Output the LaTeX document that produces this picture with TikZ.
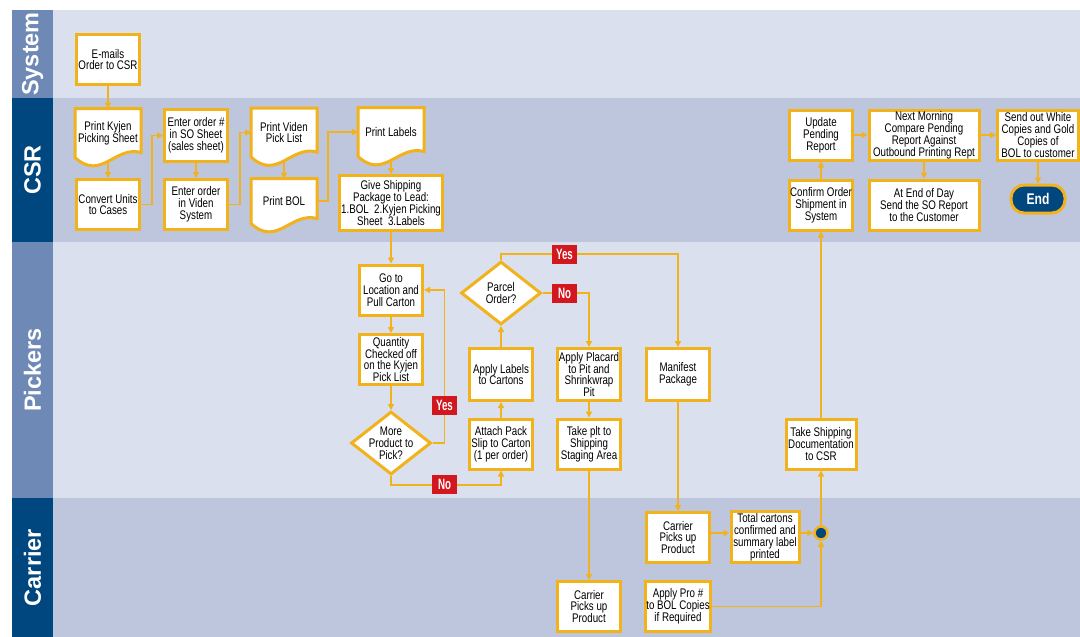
\documentclass[tikz,border=0pt]{standalone}
\usepackage{fontspec}
\setmainfont{Liberation Sans}[FakeStretch=0.78]
\newfontfamily\lanefont{Liberation Sans}
\newfontfamily\flagfont{Liberation Sans}[FakeStretch=0.65]
\usetikzlibrary{arrows.meta,shapes.geometric}
\definecolor{gold}{HTML}{F1B21C}
\definecolor{navy}{HTML}{00467F}
\definecolor{steel}{HTML}{6E89B6}
\definecolor{lanelight}{HTML}{DAE0EE}
\definecolor{lanedark}{HTML}{BEC6DE}
\definecolor{flagred}{HTML}{D2171F}
\pgfdeclarelayer{back}
\pgfsetlayers{back,main}
\tikzset{
  box/.style={draw=gold, line width=3pt, fill=white, minimum width=63pt, minimum height=50pt,
    inner sep=0.5pt, align=center, font=\fontsize{12.5}{11.9}\selectfont},
  docbox/.style={line width=3pt, minimum width=63pt, minimum height=46pt,
    inner sep=0.5pt, align=center, font=\fontsize{12.5}{11.9}\selectfont},
  docline/.style={draw=gold, line width=3pt, fill=white},
  decision/.style={diamond, draw=gold, line width=3pt, fill=white, minimum width=80pt, minimum height=63pt,
    inner sep=-6pt, align=center, font=\fontsize{12.5}{11.9}\selectfont},
  terminal/.style={draw=gold, fill=navy, line width=3pt, rounded corners=13pt, minimum width=54pt,
    minimum height=28pt, text=white, font=\bfseries\fontsize{15.5}{15.5}\selectfont},
  junction/.style={circle, draw=gold, fill=navy, line width=2.5pt, minimum size=13pt, inner sep=0pt},
  flow/.style={gold, line width=1.8pt, -{Triangle[length=6pt,width=6pt]}},
  flag/.style={fill=flagred, text=white, minimum width=25pt, minimum height=19pt, inner sep=0pt,
    font=\flagfont\bfseries\fontsize{15}{15}\selectfont},
  lanelabel/.style={text=white, rotate=90, font=\lanefont\bfseries\fontsize{23.5}{23.5}\selectfont}
}
\begin{document}
\begin{tikzpicture}[x=1pt,y=-1pt]
    \useasboundingbox (0,0) rectangle (1080,637);
    \begin{pgfonlayer}{back}
        \fill[lanelight] (53,10) rectangle (1080,98);
        \fill[lanedark] (53,98) rectangle (1080,242);
        \fill[lanelight] (53,242) rectangle (1080,498);
        \fill[lanedark] (53,498) rectangle (1080,637);
        \fill[steel] (12,10) rectangle (53,98);
        \fill[navy] (12,98) rectangle (53,242);
        \fill[steel] (12,242) rectangle (53,498);
        \fill[navy] (12,498) rectangle (53,637);
    \end{pgfonlayer}
    \node[lanelabel] (lsystem) at (32.5,54) {System};
    \node[lanelabel] (lcsr) at (32.5,170) {CSR};
    \node[lanelabel] (lpickers) at (32.5,370) {Pickers};
    \node[lanelabel] (lcarrier) at (32.5,567.5) {Carrier};

    \node[box] (emails) at (108,59.5) {E-mails\\Order to CSR};
    \node[docbox] (kyjen) at (108,133) {Print Kyjen\\Picking Sheet};
    \node[box] (convert) at (108,204.5) {Convert Units\\to Cases};
    \node[box, minimum height=52pt] (sosheet) at (196,135.5) {Enter order \#\\in SO Sheet\\(sales sheet)};
    \node[box] (videnorder) at (196,204.5) {Enter order\\in Viden\\System};
    \node[docbox] (picklist) at (284,132.5) {Print Viden\\Pick List};
    \node[docbox, minimum height=42pt] (bol) at (284,201) {Print BOL};
    \node[docbox] (labels) at (391,132) {Print Labels};
    \node[box, minimum width=103pt, minimum height=55pt] (give) at (391,203)
        {Give Shipping\\Package to Lead:\\1.BOL\ \ 2.Kyjen Picking\\Sheet\ \ 3.Labels};
    \node[box] (update) at (821,135) {Update\\Pending\\Report};
    \node[box, minimum width=110pt] (nextday) at (924,135)
        {Next Morning\\Compare Pending\\Report Against\\Outbound Printing Rept};
    \node[box, minimum width=81pt] (sendout) at (1038,135)
        {Send out White\\Copies and Gold\\Copies of\\BOL to customer};
    \node[box] (confirm) at (821,205) {Confirm Order\\Shipment in\\System};
    \node[box, minimum width=110pt] (endday) at (924,205) {At End of Day\\Send the SO Report\\to the Customer};
    \node[terminal] (finish) at (1038,199) {End};

    \node[box] (goto) at (391,290) {Go to\\Location and\\Pull Carton};
    \node[box] (qty) at (391,359.5) {Quantity\\Checked off\\on the Kyjen\\Pick List};
    \node[decision] (more) at (391,443) {More\\Product to\\Pick?};
    \node[decision] (parcel) at (501,293) {Parcel\\Order?};
    \node[box, minimum height=52pt] (applylabels) at (501,374.5) {Apply Labels\\to Cartons};
    \node[box] (attach) at (501,444) {Attach Pack\\Slip to Carton\\(1 per order)};
    \node[box, minimum height=52pt] (placard) at (589,374.5) {Apply Placard\\to Pit and\\Shrinkwrap\\Pit};
    \node[box] (takeplt) at (589,444) {Take plt to\\Shipping\\Staging Area};
    \node[box, minimum height=52pt] (manifest) at (678,374.5) {Manifest\\Package};
    \node[box, minimum width=70pt] (takedoc) at (821,444) {Take Shipping\\Documentation\\to CSR};

    \node[box] (pickup) at (678,537.5) {Carrier\\Picks up\\Product};
    \node[box, minimum width=68pt, minimum height=51pt] (total) at (765,537)
        {Total cartons\\confirmed and\\summary label\\printed};
    \node[junction] (join) at (821,533) {};
    \node[box] (pro) at (678,606.5) {Apply Pro \#\\to BOL Copies\\if Required};
    \node[box] (pickup2) at (589,606.5) {Carrier\\Picks up\\Product};

    \draw[flow] (emails.south) -- (kyjen.north);
    \draw[flow] ([yshift=-4pt]kyjen.south) -- (convert.north);
    \draw[flow] (convert.east) -- ++(11,0) |- (sosheet.west);
    \draw[flow] (sosheet.south) -- (videnorder.north);
    \draw[flow] (videnorder.east) -- ++(11,0) |- (picklist.west);
    \draw[flow] ([yshift=-4pt]picklist.south) -- (bol.north);
    \draw[flow] (bol.east) -- ++(11,0) |- (labels.west);
    \draw[flow] ([yshift=-4pt]labels.south) -- (give.north);
    \draw[flow] (give.south) -- (goto.north);
    \draw[flow] (goto.south) -- (qty.north);
    \draw[flow] (qty.south) -- (more.north);
    \draw[flow] (more.east) -- ++(12,0) |- (goto.east);
    \draw[flow] (more.south) -- ++(0,9) -| (attach.south);
    \draw[flow] (attach.north) -- (applylabels.south);
    \draw[flow] (applylabels.north) -- (parcel.south);
    \draw[flow] (parcel.north) -- ++(0,-6) -| (manifest.north);
    \draw[flow] (parcel.east) -| (placard.north);
    \draw[flow] (placard.south) -- (takeplt.north);
    \draw[flow] (takeplt.south) -- (pickup2.north);
    \draw[flow] (manifest.south) -- (pickup.north);
    \draw[flow] (pickup.east |- join) -- (total.west |- join);
    \draw[flow] (total.east |- join) -- (join.west);
    \draw[flow] (pro.east) -| (join.south);
    \draw[flow] (join.north) -- (takedoc.south);
    \draw[flow] (takedoc.north) -- (confirm.south);
    \draw[flow] (confirm.north) -- (update.south);
    \draw[flow] (update.east) -- (nextday.west);
    \draw[flow] (nextday.south) -- (endday.north);
    \draw[flow] (nextday.east) -- (sendout.west);
    \draw[flow] (sendout.south) -- (finish.north);

    \node[flag] (yesloop) at (444.5,405.5) {Yes};
    \node[flag] (noloop) at (444.5,484.5) {No};
    \node[flag] (yesparcel) at (564.5,254) {Yes};
    \node[flag] (noparcel) at (564.5,293) {No};

    \begin{pgfonlayer}{back}
        \foreach \d in {kyjen,picklist,bol,labels}
            \filldraw[docline] (\d.north west) -- (\d.south west)
                .. controls +(26pt,-24pt) and +(-26pt,7pt) .. ([yshift=5pt]\d.south east)
                -- (\d.north east) -- cycle;
    \end{pgfonlayer}
\end{tikzpicture}
\end{document}
